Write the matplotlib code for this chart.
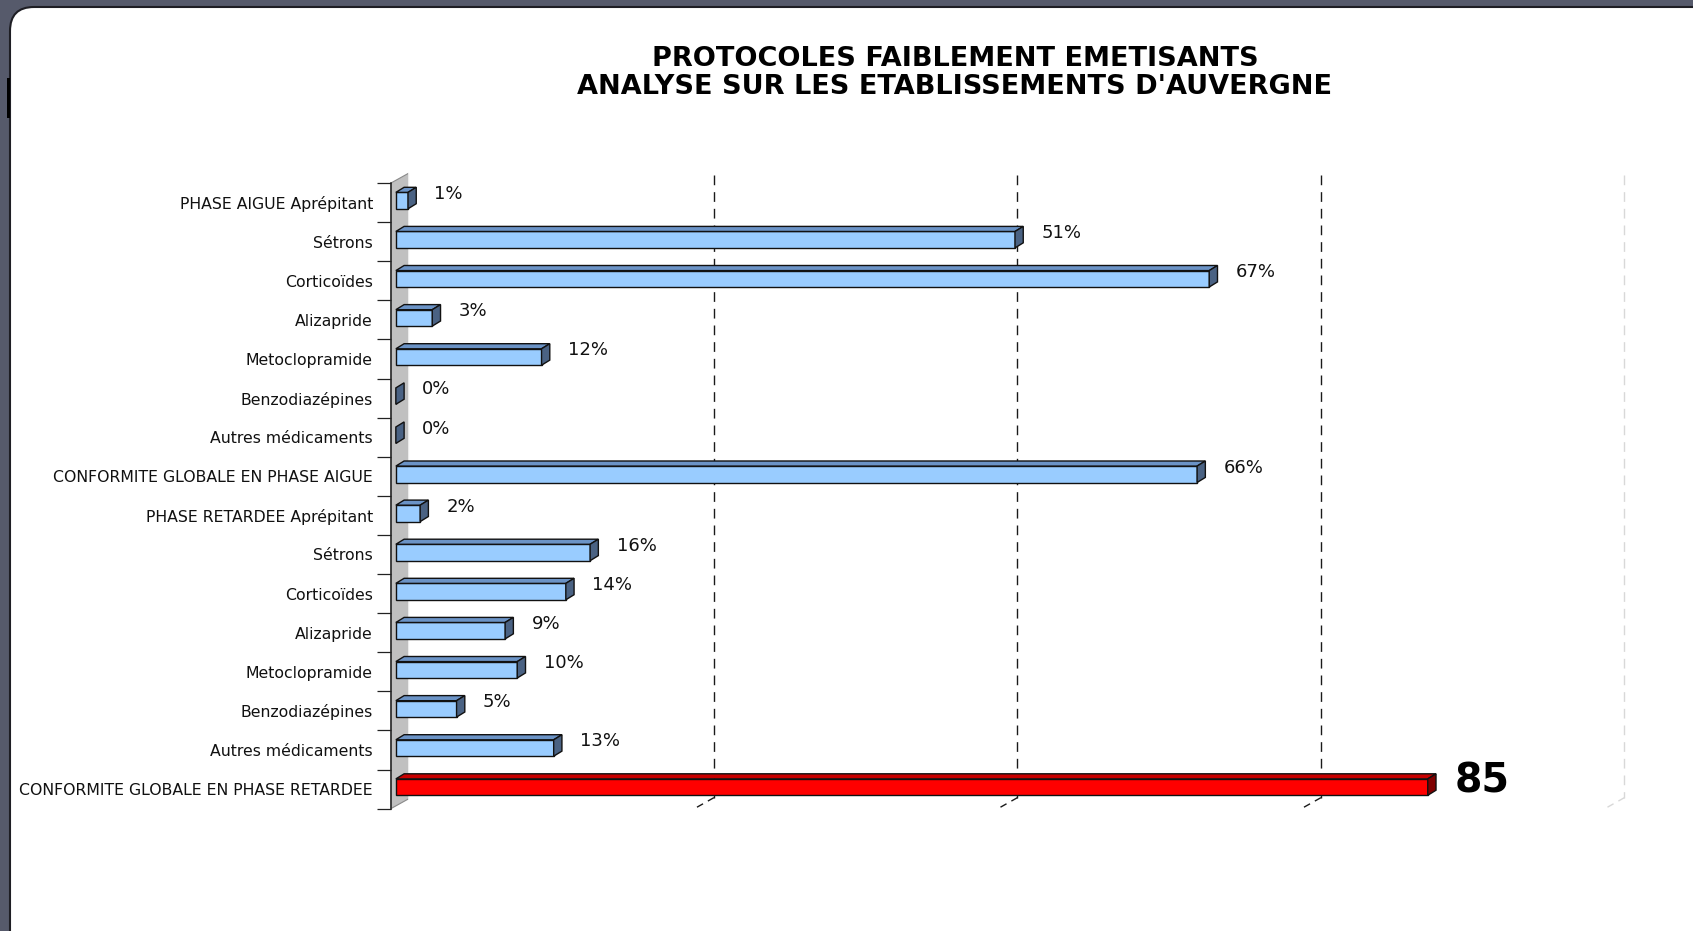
import matplotlib
matplotlib.use("Agg")
import matplotlib.pyplot as plt
import numpy as np
from matplotlib.patches import Polygon, FancyBboxPatch, Rectangle
from matplotlib.transforms import IdentityTransform

plt.rcParams["font.family"] = ["DejaVu Sans"]

categories = [
    "PHASE AIGUE Aprépitant",
    "Sétrons",
    "Corticoïdes",
    "Alizapride",
    "Metoclopramide",
    "Benzodiazépines",
    "Autres médicaments",
    "CONFORMITE GLOBALE EN PHASE AIGUE",
    "PHASE RETARDEE Aprépitant",
    "Sétrons",
    "Corticoïdes",
    "Alizapride",
    "Metoclopramide",
    "Benzodiazépines",
    "Autres médicaments",
    "CONFORMITE GLOBALE EN PHASE RETARDEE",
]
values = [1, 51, 67, 3, 12, 0, 0, 66, 2, 16, 14, 9, 10, 5, 13, 85]
value_labels = ["1%", "51%", "67%", "3%", "12%", "0%", "0%", "66%",
                "2%", "16%", "14%", "9%", "10%", "5%", "13%", "85"]
gridlines = [25, 50, 75]
title_lines = ["PROTOCOLES FAIBLEMENT EMETISANTS",
               "ANALYSE SUR LES ETABLISSEMENTS D'AUVERGNE"]

W, H = 1693, 931
fig = plt.figure(figsize=(W / 100, H / 100), dpi=100)
fig.patch.set_facecolor("#565a6b")

# slide panel behind everything
panel = FancyBboxPatch((10, -40), W + 40, H - 6 + 40 - 1,
                       boxstyle="round,pad=0,rounding_size=24",
                       transform=IdentityTransform(), facecolor="white",
                       edgecolor="#1e1e24", linewidth=1.5, zorder=-10)
fig.patches.append(panel)
fig.patches.append(Rectangle((7, H - 118), 3, 40, transform=IdentityTransform(),
                             facecolor="black", edgecolor="none", zorder=-9))

# axes geometry (pixels)
px_per_pct = 12.14
x_left = -0.4
x_right = 105.0
ax_left, ax_top, ax_bot = 391, 183, 808.6
ax = fig.add_axes([ax_left / W, (H - ax_bot) / H,
                   (x_right - x_left) * px_per_pct / W, (ax_bot - ax_top) / H])
ax.set_xlim(x_left, x_right)
ax.set_ylim(15.5, -0.5)
ax.patch.set_alpha(0)

# 3D back wall / floor
wall_dx, wall_dy = 1.45, 0.25
ax.add_patch(Polygon([(x_left, -0.5), (x_left + wall_dx, -0.5 - wall_dy),
                      (x_left + wall_dx, 15.5 - wall_dy), (x_left, 15.5)],
                     closed=True, facecolor="#c0c0c0", edgecolor="#8a8a8a",
                     linewidth=0.8, zorder=1, clip_on=False))
ax.plot([x_left + wall_dx] * 2, [-0.5 - wall_dy, 15.5 - wall_dy],
        color="white", lw=1.2, zorder=1.5, clip_on=False)

grid_off = 1.2
for g in gridlines + [100]:
    col = "#1a1a1a" if g != 100 else "#d8d8d8"
    gx = g + grid_off
    ax.plot([gx, gx], [-0.5 - 0.2, 15.5 - 0.28], color=col, lw=1.0,
            dashes=(7, 5), zorder=1, clip_on=False)
    ax.plot([gx, gx - 1.6], [15.5 - 0.28, 15.5], color=col, lw=1.0,
            dashes=(5, 4), zorder=1, clip_on=False)

# bars with fake depth
bar_h = 0.42
y_shift = -0.05
dx, dy = 0.68, 0.13
ys = np.arange(len(values)) + y_shift
front = ["#99ccff"] * (len(values) - 1) + ["#ff0000"]
top_c = ["#6b93c6"] * (len(values) - 1) + ["#c80000"]
side_c = ["#4a6283"] * (len(values) - 1) + ["#800000"]

ax.barh(ys, values, height=bar_h, left=0, color=front, edgecolor="#111111",
        linewidth=1.0, zorder=3)
for y, v, tc, sc in zip(ys, values, top_c, side_c):
    y0 = y - bar_h / 2
    y1 = y + bar_h / 2
    if v > 0:
        ax.add_patch(Polygon([(0, y0), (v, y0), (v + dx, y0 - dy), (dx, y0 - dy)],
                             closed=True, facecolor=tc, edgecolor="#111111",
                             linewidth=1.0, zorder=3))
    ax.add_patch(Polygon([(v, y0), (v + dx, y0 - dy), (v + dx, y1 - dy), (v, y1)],
                         closed=True, facecolor=sc, edgecolor="#111111",
                         linewidth=1.0, zorder=3))

for i, (v, lab) in enumerate(zip(values, value_labels)):
    if i == len(values) - 1:
        ax.text(v + dx + 1.5, i - 0.2, lab, ha="left", va="center",
                fontsize=28.5, fontweight="bold", color="black", zorder=4)
    else:
        ax.text(v + dx + 1.5, i - 0.22, lab, ha="left", va="center",
                fontsize=13, color="#111111", zorder=4)

# category axis
ax.set_yticks(np.arange(-0.5, 16, 1))
ax.set_yticklabels([])
ax.tick_params(axis="y", which="major", length=10, width=0.9, color="#222222")
ax.set_yticks(np.arange(16), minor=True)
ax.set_yticklabels(categories, minor=True, fontsize=11.3, color="#111111")
ax.tick_params(axis="y", which="minor", length=0, pad=13)
ax.set_xticks([])
for s in ["top", "right", "bottom"]:
    ax.spines[s].set_visible(False)
ax.spines["left"].set_linewidth(1.1)
ax.spines["left"].set_color("#222222")

fig.text(955 / W, 1 - 59 / H, title_lines[0], ha="center", va="center",
         fontsize=19.5, fontweight="bold")
fig.text(955 / W, 1 - 87 / H, title_lines[1], ha="center", va="center",
         fontsize=19.5, fontweight="bold")

fig.savefig("out.png", dpi=100, facecolor=fig.get_facecolor())
